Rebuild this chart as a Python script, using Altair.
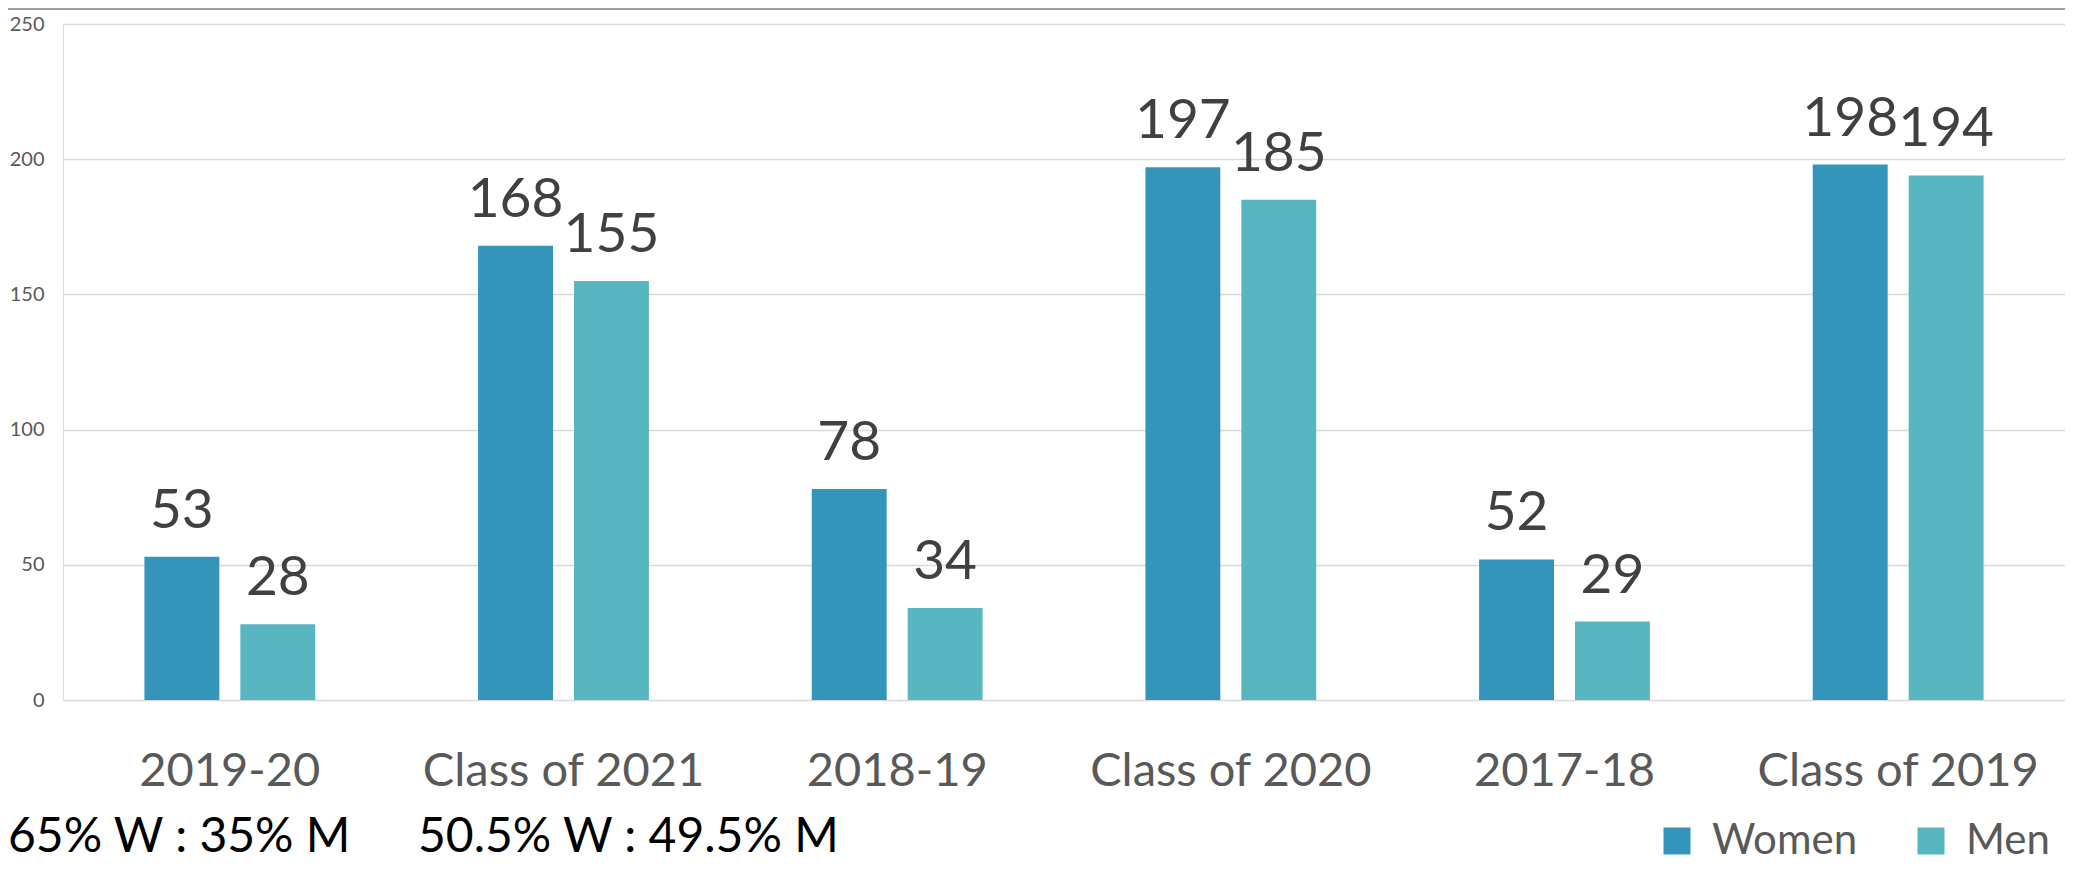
import altair as alt
import pandas as pd

categories = ["2019-20", "Class of 2021", "2018-19", "Class of 2020", "2017-18", "Class of 2019"]
women = [53, 168, 78, 197, 52, 198]
men = [28, 155, 34, 185, 29, 194]
series = ["Women", "Men"]
colors = ["#3494BA", "#58B6C0"]
y_ticks = [0, 50, 100, 150, 200, 250]
notes = ["65% W : 35% M", "50.5% W : 49.5% M"]

rows = []
for c, w, m in zip(categories, women, men):
    rows.append({"category": c, "gender": "Women", "value": w})
    rows.append({"category": c, "gender": "Men", "value": m})
df = pd.DataFrame(rows)

W = 2002
H = 676
FONT = "Lato"

x = alt.X(
    "category:N",
    sort=categories,
    scale=alt.Scale(paddingInner=0, paddingOuter=0),
    axis=alt.Axis(
        title=None, labelAngle=0, labelFont=FONT, labelFontSize=47,
        labelColor="#595959", labelPadding=48, labelLimit=0, ticks=False,
        tickSize=0, domain=False, grid=False,
    ),
)
xo = alt.XOffset("gender:N", sort=series,
                 scale=alt.Scale(paddingInner=0.219, paddingOuter=0.849))
y = alt.Y(
    "value:Q",
    scale=alt.Scale(domain=[0, 250], nice=False),
    axis=alt.Axis(
        title=None, values=y_ticks, labelFont=FONT, labelFontSize=20,
        labelColor="#595959", labelPadding=19, ticks=False, tickSize=0,
        domain=False, grid=True, gridColor="#d9d9d9", gridWidth=1.6,
    ),
)
color = alt.Color(
    "gender:N", sort=series,
    scale=alt.Scale(domain=series, range=colors),
    legend=alt.Legend(
        title=None, orient="none", legendX=1593, legendY=796,
        direction="horizontal", symbolType="square", symbolSize=729,
        symbolStrokeWidth=0, labelFont=FONT, labelFontSize=42,
        labelColor="#595959", labelOffset=14, columnPadding=52, padding=0,
    ),
)

base = alt.Chart(df)
bars = base.mark_bar().encode(x=x, xOffset=xo, y=y, color=color)
labels = base.mark_text(
    font=FONT, fontSize=55, color="#404040", baseline="alphabetic",
    align="center", dy=-29,
).encode(x=x, xOffset=xo, y=y, text="value:Q")

top_rule = alt.Chart(pd.DataFrame({"k": [0]})).mark_rule(
    color="#7f7f7f", strokeWidth=1.5
).encode(x=alt.value(-56), x2=alt.value(W), y=alt.value(-15))

note1 = alt.Chart(pd.DataFrame({"t": [notes[0]]})).mark_text(
    font=FONT, fontSize=48, color="#000000", align="left", baseline="alphabetic"
).encode(x=alt.value(-55), y=alt.value(828), text="t:N")
note2 = alt.Chart(pd.DataFrame({"t": [notes[1]]})).mark_text(
    font=FONT, fontSize=48, color="#000000", align="left", baseline="alphabetic"
).encode(x=alt.value(355), y=alt.value(828), text="t:N")

chart = alt.layer(bars, labels, top_rule, note1, note2).properties(
    width=W, height=H,
    autosize=alt.AutoSizeParams(type="none"),
    padding={"left": 55, "top": 16, "right": 0, "bottom": 163},
).configure_view(stroke=None).configure(background="white")

chart.save("out.html", embed_options={"renderer": "svg", "actions": False})
